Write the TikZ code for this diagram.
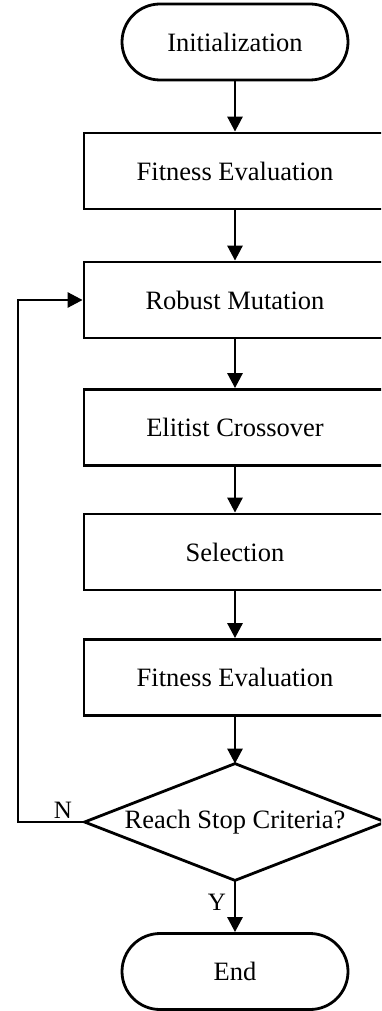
\documentclass[tikz,border=0pt]{standalone}
\usepackage{fontspec}
\setmainfont{Liberation Serif}
\usetikzlibrary{arrows.meta}
\begin{document}
\begin{tikzpicture}[x=1pt,y=-1pt,
  line width=2.8pt,
  every node/.style={font=\fontsize{26.5}{30}\selectfont},
  procbox/.style={draw, rectangle, minimum width=302pt, minimum height=76pt, inner sep=0pt},
  termbox/.style={draw, rectangle, rounded corners=38pt, minimum width=226pt, minimum height=76pt, inner sep=0pt},
  flow/.style={-{Triangle[width=15pt,length=15pt]}},
  lbl/.style={font=\fontsize{25}{28}\selectfont, inner sep=0pt}
]
\useasboundingbox (0,0) rectangle (381,1011);
\begin{scope}
\clip (0,0) rectangle (381,1011);
\node[termbox] (init) at (235,42) {Initialization};
\node[procbox] (fit1) at (235,171) {Fitness Evaluation};
\node[procbox] (rob) at (235,300) {Robust Mutation};
\node[procbox] (eli) at (235,427.5) {Elitist Crossover};
\node[procbox] (sel) at (235,552) {Selection};
\node[procbox] (fit2) at (235,677.5) {Fitness Evaluation};
\node[rectangle, minimum width=298pt, minimum height=114pt, inner sep=0pt] (dec) at (235,822) {Reach Stop Criteria?};
\draw (dec.north) -- (dec.east) -- (dec.south) -- (dec.west) -- cycle;
\node[termbox] (end) at (235,971.5) {End};
\coordinate (loop) at (18,822);
\draw[flow] (init) -- (fit1);
\draw[flow] (fit1) -- (rob);
\draw[flow] (rob) -- (eli);
\draw[flow] (eli) -- (sel);
\draw[flow] (sel) -- (fit2);
\draw[flow] (fit2) -- (dec.north);
\draw[flow] (dec.south) -- (end);
\draw[flow] (dec.west) -- (loop) |- (rob.west);
\node[lbl] (nlab) at (63,810) {N};
\node[lbl] (ylab) at (217,902) {Y};
\end{scope}
\end{tikzpicture}
\end{document}
